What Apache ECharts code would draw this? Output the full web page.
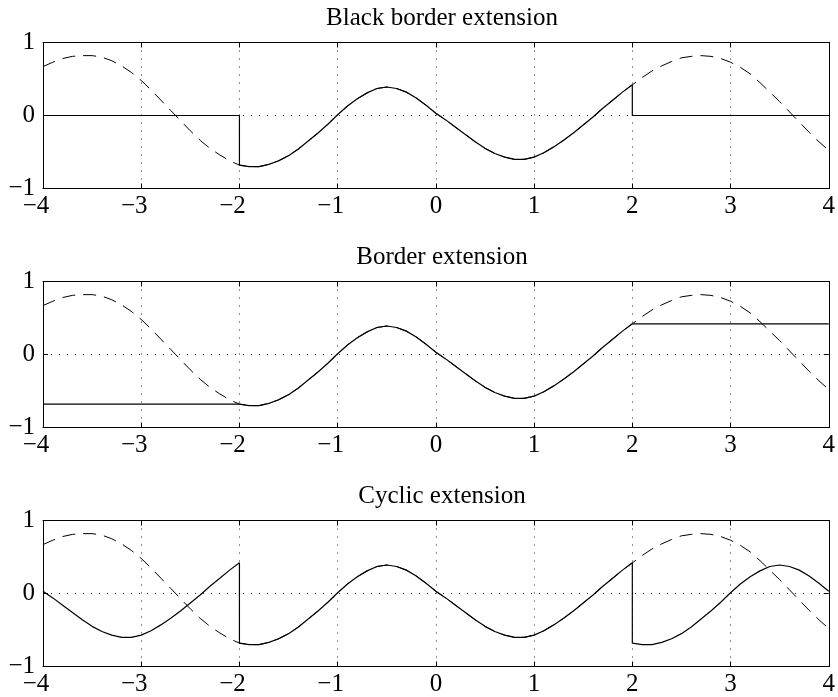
<!DOCTYPE html>
<html>
<head>
<meta charset="utf-8">
<script src="https://cdn.jsdelivr.net/npm/echarts@6/dist/echarts.min.js"></script>
<style>
  html, body { margin: 0; padding: 0; background: #fff; }
  #chart { width: 838px; height: 697px; }
</style>
</head>
<body>
<div id="chart"></div>
<script>
// Sample positions of the signal
const xs = [
  -4.0, -3.9, -3.8, -3.7, -3.6, -3.5, -3.4, -3.3, -3.2, -3.1,
  -3.0, -2.9, -2.8, -2.7, -2.6, -2.5, -2.4, -2.3, -2.2, -2.1,
  -2.0, -1.9, -1.8, -1.7, -1.6, -1.5, -1.4, -1.3, -1.2, -1.1,
  -1.0, -0.9, -0.8, -0.7, -0.6, -0.5, -0.4, -0.3, -0.2, -0.1,
   0.0,  0.1,  0.2,  0.3,  0.4,  0.5,  0.6,  0.7,  0.8,  0.9,
   1.0,  1.1,  1.2,  1.3,  1.4,  1.5,  1.6,  1.7,  1.8,  1.9,
   2.0,  2.1,  2.2,  2.3,  2.4,  2.5,  2.6,  2.7,  2.8,  2.9,
   3.0,  3.1,  3.2,  3.3,  3.4,  3.5,  3.6,  3.7,  3.8,  3.9,
   4.0
];

// Original signal (dashed curve) at those positions
const signal = [
   0.67,  0.73,  0.78,  0.81,  0.82,  0.82,  0.80,  0.75,  0.68,  0.59,
   0.48,  0.35,  0.21,  0.07, -0.07, -0.21, -0.34, -0.45, -0.54, -0.62,
  -0.68, -0.70, -0.70, -0.67, -0.62, -0.55, -0.46, -0.35, -0.24, -0.12,
   0.01,  0.13,  0.23,  0.31,  0.37,  0.39,  0.37,  0.32,  0.24,  0.14,
   0.03, -0.06, -0.16, -0.26, -0.36, -0.45, -0.52, -0.57, -0.60, -0.60,
  -0.57, -0.51, -0.43, -0.34, -0.24, -0.13, -0.02,  0.10,  0.21,  0.32,
   0.42,  0.52,  0.61,  0.68,  0.74,  0.79,  0.81,  0.82,  0.81,  0.78,
   0.73,  0.66,  0.57,  0.45,  0.32,  0.19,  0.05, -0.09, -0.23, -0.36,
  -0.48
];

const panelTitles = ['Black border extension', 'Border extension', 'Cyclic extension'];
const xTickValues = [-4, -3, -2, -1, 0, 1, 2, 3, 4];
const yTickValues = [-1, 0, 1];

// The known part of the signal lies on [-2, 2]; one period is 4 units
const lo = xs.indexOf(-2.0);
const hi = xs.indexOf(2.0);
const shift = hi - lo;

function pairs(from, to, valueAt) {
  const out = [];
  for (let i = from; i <= to; i++) out.push([xs[i], valueAt(i)]);
  return out;
}

// Zero padding outside the support
const blackBorder = [].concat(
  pairs(0, lo, () => 0),
  pairs(lo, hi, i => signal[i]),
  pairs(hi, xs.length - 1, () => 0)
);

// Edge values repeated outward
const borderExt = [].concat(
  pairs(0, lo, () => signal[lo]),
  pairs(lo + 1, hi - 1, i => signal[i]),
  pairs(hi, xs.length - 1, () => signal[hi])
);

// Periodic repetition of the [-2, 2] segment
const cyclicExt = [].concat(
  pairs(0, lo, i => signal[i + shift]),
  pairs(lo, hi, i => signal[i]),
  pairs(hi, xs.length - 1, i => signal[i - shift])
);

const extensions = [blackBorder, borderExt, cyclicExt];
const original = xs.map((x, i) => [x, signal[i]]);

const FONT = '"Liberation Serif", "Times New Roman", serif';
const FS = 25;
const MINUS = '\u2212';

const gridLeft = 43, gridWidth = 792, gridHeight = 146;
const gridTops = [42.5, 281.5, 520.5];
const titleTops = [1, 240, 479];

const dots = { color: '#222', width: 1, type: [1, 7] };

const option = {
  animation: false,
  backgroundColor: '#fff',
  title: panelTitles.map((t, g) => ({
    text: t,
    left: gridLeft + gridWidth / 2 - 2,
    top: titleTops[g],
    textAlign: 'center',
    textStyle: { fontFamily: FONT, fontSize: FS, fontWeight: 'normal', color: '#000' }
  })),
  grid: gridTops.map(top => ({
    left: gridLeft, top: top, width: gridWidth, height: gridHeight,
    containLabel: false, show: false
  })),
  xAxis: [],
  yAxis: [],
  series: []
};

for (let g = 0; g < 3; g++) {
  const frame = { show: true, onZero: false, lineStyle: { color: '#000', width: 1 } };
  const tick = { show: true, inside: true, length: 5, lineStyle: { color: '#000', width: 1 } };
  // bottom x axis with labels and vertical dotted grid
  option.xAxis.push({
    type: 'value', gridIndex: g, position: 'bottom',
    min: xTickValues[0], max: xTickValues[xTickValues.length - 1], interval: 1,
    axisLine: frame, axisTick: tick,
    axisLabel: {
      show: true, margin: 5, color: '#000', fontFamily: FONT, fontSize: FS,
      showMinLabel: true, showMaxLabel: true,
      formatter: v => v < 0 ? '{n|' + MINUS + (-v) + '}{p| }' : '{n|' + v + '}',
      rich: {
        n: { fontFamily: FONT, fontSize: FS, color: '#000' },
        p: { fontFamily: FONT, fontSize: FS, width: 14 }
      }
    },
    splitLine: { show: true, lineStyle: dots }
  });
  // top x axis: frame edge and ticks only
  option.xAxis.push({
    type: 'value', gridIndex: g, position: 'top',
    min: xTickValues[0], max: xTickValues[xTickValues.length - 1], interval: 1,
    axisLine: frame, axisTick: tick,
    axisLabel: { show: false }, splitLine: { show: false }
  });
  // left y axis with labels and horizontal dotted grid
  option.yAxis.push({
    type: 'value', gridIndex: g, position: 'left',
    min: yTickValues[0], max: yTickValues[yTickValues.length - 1], interval: 1,
    axisLine: frame, axisTick: tick,
    axisLabel: {
      show: true, margin: 8, color: '#000', fontFamily: FONT, fontSize: FS,
      formatter: v => v < 0 ? MINUS + (-v) : String(v)
    },
    splitLine: { show: true, lineStyle: dots }
  });
  // right y axis: frame edge and ticks only
  option.yAxis.push({
    type: 'value', gridIndex: g, position: 'right',
    min: yTickValues[0], max: yTickValues[yTickValues.length - 1], interval: 1,
    axisLine: frame, axisTick: tick,
    axisLabel: { show: false }, splitLine: { show: false }
  });

  option.series.push({
    type: 'line', xAxisIndex: 2 * g, yAxisIndex: 2 * g,
    data: original, symbol: 'none', silent: true, z: 2,
    lineStyle: { color: '#000', width: 1, type: [13, 8] }
  });
  option.series.push({
    type: 'line', xAxisIndex: 2 * g, yAxisIndex: 2 * g,
    data: extensions[g], symbol: 'none', silent: true, z: 3,
    lineStyle: { color: '#000', width: 1.2, type: 'solid' }
  });
}

const chart = echarts.init(document.getElementById('chart'), null, { renderer: 'canvas' });
chart.setOption(option);
</script>
</body>
</html>
